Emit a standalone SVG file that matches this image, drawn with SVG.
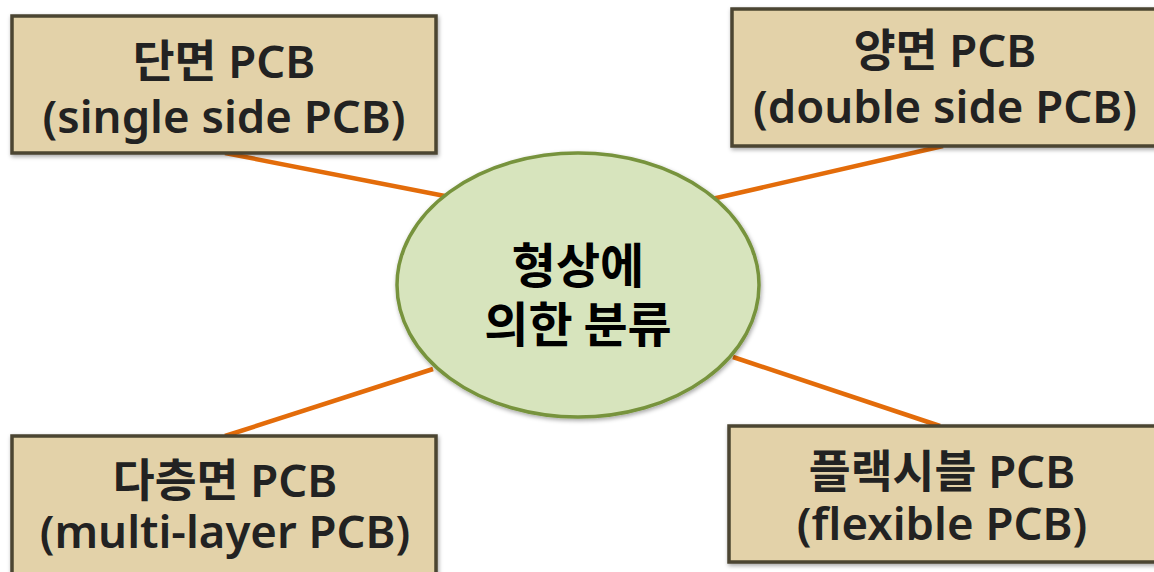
<svg xmlns="http://www.w3.org/2000/svg" width="1154" height="572" viewBox="0 0 1154 572">
<style>
.box{fill:#E3D2A9;stroke:#4B4530;stroke-width:3.5;filter:url(#sh)}
.lbl{font-family:"Noto Sans","Noto Sans CJK KR",sans-serif;font-weight:600;font-size:45.5px;fill:#222;text-anchor:middle}
.ctr{font-family:"Noto Sans CJK KR",sans-serif;font-weight:700;font-size:48px;fill:#000;text-anchor:middle}
.con{stroke:#E36C0A;stroke-width:4.5;fill:none}
</style>
<defs>
<filter id="sh" x="-10%" y="-10%" width="120%" height="130%">
<feDropShadow dx="1" dy="2" stdDeviation="2" flood-color="#000" flood-opacity="0.35"/>
</filter>
</defs>
<rect width="1154" height="572" fill="#fff"/>
<g id="connectors">
<line class="con" x1="225" y1="153" x2="450" y2="197"/>
<line class="con" x1="943" y1="146" x2="712" y2="199"/>
<line class="con" x1="225" y1="436" x2="433" y2="369"/>
<line class="con" x1="940" y1="426" x2="733" y2="357"/>
</g>
<g id="center">
<ellipse cx="578" cy="285" rx="181" ry="132" fill="#D7E4BD" stroke="#77933C" stroke-width="3.5" filter="url(#sh)"/>
<text class="ctr" x="578" y="283">형상에</text>
<text class="ctr" x="578" y="342">의한 분류</text>
</g>
<g id="single">
<rect class="box" x="12" y="16" width="424" height="137"/>
<text class="lbl" x="224" y="78">단면 PCB</text>
<text class="lbl" x="224" y="133">(single side PCB)</text>
</g>
<g id="double">
<rect class="box" x="732" y="9" width="430" height="137"/>
<text class="lbl" x="945" y="67">양면 PCB</text>
<text class="lbl" x="945" y="123">(double side PCB)</text>
</g>
<g id="multi">
<rect class="box" x="12" y="436" width="424" height="150"/>
<text class="lbl" x="225" y="497">다층면 PCB</text>
<text class="lbl" x="225" y="548">(multi-layer PCB)</text>
</g>
<g id="flexible">
<rect class="box" x="729" y="426" width="433" height="136"/>
<text class="lbl" x="942" y="488">플랙시블 PCB</text>
<text class="lbl" x="942" y="540">(flexible PCB)</text>
</g>
</svg>
